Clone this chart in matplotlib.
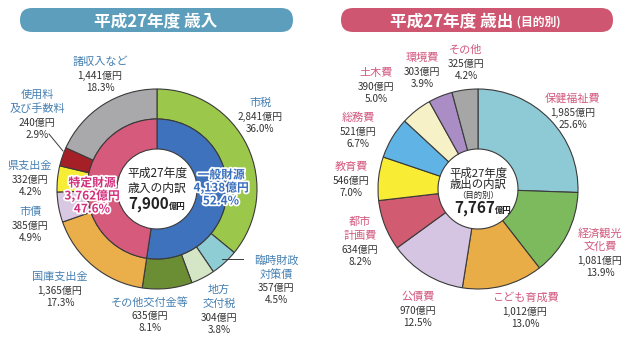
import matplotlib
matplotlib.use("Agg")
import matplotlib.pyplot as plt
import matplotlib.patheffects as pe
from matplotlib.patches import FancyBboxPatch

plt.rcParams['font.family'] = ['Noto Sans CJK JP', 'DejaVu Sans']

# ---- data: revenue (歳入) ----
rev_outer_names = ['市税', '臨時財政\n対策債', '地方\n交付税', 'その他交付金等', '国庫支出金',
                   '市債', '県支出金', '使用料\n及び手数料', '諸収入など']
rev_outer_values = [2841, 357, 304, 635, 1365, 385, 332, 240, 1441]
rev_outer_pct = ['36.0%', '4.5%', '3.8%', '8.1%', '17.3%', '4.9%', '4.2%', '2.9%', '18.3%']
rev_outer_colors = ['#9bc84b', '#8fcdd5', '#d4e6c6', '#6b8e34', '#eaae4b',
                    '#d9c8e2', '#f8ed36', '#a51f26', '#a9a9ab']

rev_inner_names = ['一般財源', '特定財源']
rev_inner_values = [4138, 3762]
rev_inner_pct = ['52.4%', '47.6%']
rev_inner_colors = ['#3e72bc', '#d55a7b']
rev_total = 7900

# ---- data: expenditure (歳出, 目的別) ----
exp_names = ['保健福祉費', '経済観光\n文化費', 'こども育成費', '公債費', '都市\n計画費',
             '教育費', '総務費', '土木費', '環境費', 'その他']
exp_values = [1985, 1081, 1012, 970, 634, 546, 521, 390, 303, 325]
exp_pct = ['25.6%', '13.9%', '13.0%', '12.5%', '8.2%', '7.0%', '6.7%', '5.0%', '3.9%', '4.2%']
exp_colors = ['#8ecad5', '#7dba5e', '#e9ad47', '#d6c5e2', '#d15b70',
              '#f8ec35', '#5fb4e5', '#f6f1c6', '#aa8dc5', '#a6a6a6']
exp_total = 7767

# ---- layout (pixel coords, y from top) ----
W, H = 629, 341
rev_center = (157, 189)
exp_center = (478, 189)
rev_label_pos = [(260, 103), (276, 260), (219, 290), (150, 302), (60, 277),
                 (30, 212), (30, 166), (37, 95), (100, 62)]
rev_inner_pos = [(221, 175), (92, 183)]
exp_label_pos = [(573, 99), (600, 233), (525, 298), (418, 297), (360, 222),
                 (351, 167), (358, 118), (376, 73), (422, 58), (466, 50)]

EDGE = '#3a3a3a'
REV_TXT = '#4680b2'
EXP_TXT = '#d2587f'
VAL_TXT = '#333333'


def py(y):
    return H - y


fig = plt.figure(figsize=(W / 100, H / 100), dpi=100)
ax = fig.add_axes([0, 0, 1, 1])


def label(x, y, name, value, pct, color):
    lines = name.split('\n')
    for i, ln in enumerate(lines):
        ax.text(x, py(y + 14 * i), ln, color=color, fontsize=8, ha='center', va='center')
    yv = y + 14 * len(lines)
    ax.text(x, py(yv), f'{value:,}億円', color=VAL_TXT, fontsize=7.2, ha='center', va='center')
    ax.text(x, py(yv + 12), pct, color=VAL_TXT, fontsize=7.2, ha='center', va='center')


# title banners
for (x0, x1), col, cx, main, sub in [((20, 293), '#5c9ebb', 156, '平成27年度 歳入', None),
                                     ((341, 613), '#cf5670', 513, '平成27年度 歳出', ' (目的別)')]:
    ax.add_patch(FancyBboxPatch((x0, py(32)), x1 - x0, 24,
                                boxstyle='round,pad=0,rounding_size=12',
                                fc=col, ec='none'))
    if sub is None:
        ax.text(cx, py(26), main, color='white', fontsize=12, fontweight='bold',
                ha='center', va='baseline')
    else:
        ax.text(cx, py(26), main, color='white', fontsize=12, fontweight='bold',
                ha='right', va='baseline')
        ax.text(cx + 1, py(26), sub, color='white', fontsize=8.5, fontweight='bold',
                ha='left', va='baseline')

wp = dict(edgecolor=EDGE, linewidth=0.8)

# revenue donut
ax.pie(rev_outer_values, colors=rev_outer_colors, startangle=90, counterclock=False,
       radius=100, center=(rev_center[0], py(rev_center[1])),
       wedgeprops=dict(width=30, **wp))
ax.pie(rev_inner_values, colors=rev_inner_colors, startangle=90, counterclock=False,
       radius=70, center=(rev_center[0], py(rev_center[1])),
       wedgeprops=dict(width=30, **wp))

# expenditure donut
ax.pie(exp_values, colors=exp_colors, startangle=90, counterclock=False,
       radius=100, center=(exp_center[0], py(exp_center[1])),
       wedgeprops=dict(width=60, **wp))

# outer labels
for (x, y), n, v, p in zip(rev_label_pos, rev_outer_names, rev_outer_values, rev_outer_pct):
    label(x, y, n, v, p, REV_TXT)
for (x, y), n, v, p in zip(exp_label_pos, exp_names, exp_values, exp_pct):
    label(x, y, n, v, p, EXP_TXT)

# leader lines
ax.plot([49, 63], [py(134), py(151)], color=EDGE, lw=0.7)
ax.plot([222, 243], [py(259), py(259)], color=EDGE, lw=0.7)

# inner ring labels
stroke = [pe.withStroke(linewidth=2.5, foreground='white')]
for (x, y), n, v, p, c in zip(rev_inner_pos, rev_inner_names, rev_inner_values, rev_inner_pct,
                              ['#3a6fbe', '#d3307c']):
    for i, s in enumerate([n, f'{v:,}億円', p]):
        ax.text(x, py(y + 13 * i), s, color=c, fontsize=8.5, fontweight='bold',
                ha='center', va='center', path_effects=stroke)

# centre texts
cx, cy = rev_center
ax.text(cx, py(173), '平成27年度', fontsize=8.5, ha='center', va='center', color='#222222')
ax.text(cx, py(188), '歳入の内訳', fontsize=8.5, ha='center', va='center', color='#222222')
ax.text(cx + 12, py(209), f'{rev_total:,}', fontsize=11, fontweight='bold',
        ha='right', va='baseline', color='#222222')
ax.text(cx + 12, py(209), '億円', fontsize=6, fontweight='bold',
        ha='left', va='baseline', color='#222222')

cx, cy = exp_center
ax.text(cx, py(173), '平成27年度', fontsize=8.2, ha='center', va='center', color='#222222')
ax.text(cx, py(184), '歳出の内訳', fontsize=8.2, ha='center', va='center', color='#222222')
ax.text(cx, py(195), '（目的別）', fontsize=6, ha='center', va='center', color='#222222')
ax.text(cx + 17, py(213), f'{exp_total:,}', fontsize=11, fontweight='bold',
        ha='right', va='baseline', color='#222222')
ax.text(cx + 17, py(213), '億円', fontsize=6, fontweight='bold',
        ha='left', va='baseline', color='#222222')

ax.set_xlim(0, W)
ax.set_ylim(0, H)
ax.set_aspect('equal')
ax.axis('off')

fig.savefig('out.png', dpi=100, facecolor='white')
